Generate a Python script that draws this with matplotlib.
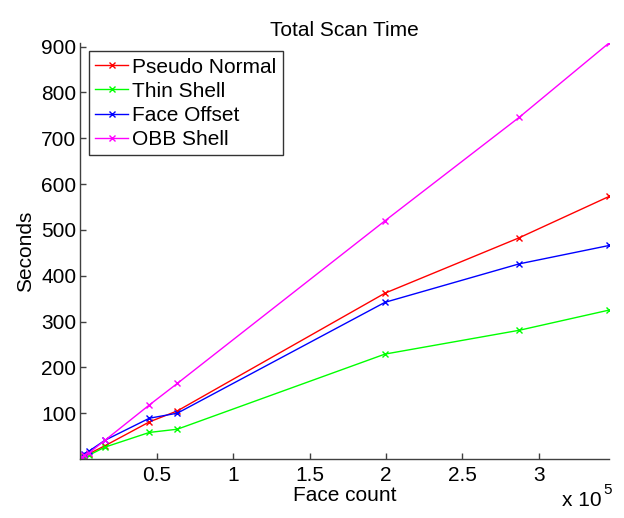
import matplotlib
matplotlib.use("Agg")
import matplotlib.pyplot as plt

plt.rcParams['font.family'] = ['Liberation Sans', 'DejaVu Sans']

face_count = [200, 500, 1000, 2500, 6000, 16200, 45200, 63500, 199400, 287300, 346000]
pseudo_normal = [1, 2, 3, 6, 12, 29, 81, 105, 362, 483, 573]
thin_shell = [1, 2, 3, 5, 9, 26, 58, 65, 229, 281, 325]
face_offset = [1, 3, 5, 12, 18, 41, 89, 100, 342, 426, 466]
obb_shell = [1, 2, 4, 8, 14, 41, 118, 165, 520, 746, 908]

series = [
    ("Pseudo Normal", pseudo_normal, "#ff0000"),
    ("Thin Shell", thin_shell, "#00ff00"),
    ("Face Offset", face_offset, "#0000ff"),
    ("OBB Shell", obb_shell, "#ff00ff"),
]
x_ticks = [0.5e5, 1e5, 1.5e5, 2e5, 2.5e5, 3e5]
x_tick_labels = ["0.5", "1", "1.5", "2", "2.5", "3"]
y_ticks = [100, 200, 300, 400, 500, 600, 700, 800, 900]

W, H = 624, 518
fig = plt.figure(figsize=(W / 100, H / 100), dpi=100)
ax = fig.add_axes([0.1287, 0.1139, 0.976 - 0.1287, 0.917 - 0.1139])

for name, vals, col in series:
    ax.plot(face_count, vals, color=col, marker='x', markersize=5, linewidth=1.0, label=name)

ax.set_xlim(0, max(face_count))
ax.set_ylim(0, max(obb_shell))
ax.set_xticks(x_ticks)
ax.set_xticklabels(x_tick_labels)
ax.set_yticks(y_ticks)
for s in ['top', 'right']:
    ax.spines[s].set_visible(False)
for s in ['left', 'bottom']:
    ax.spines[s].set_color('#404040')
    ax.spines[s].set_linewidth(1.0)
ax.tick_params(direction='in', length=4, width=1, color='#404040', labelsize=15)
ax.tick_params(axis='x', pad=5)
ax.tick_params(axis='y', pad=3)

ax.set_title("Total Scan Time", fontsize=15, pad=5)
ax.set_xlabel("Face count", fontsize=15, labelpad=1)
ax.set_ylabel("Seconds", fontsize=15, labelpad=4)
fig.text(562 / W, 1 - 506 / H, "x 10", ha='left', va='baseline', fontsize=15)
fig.text(603 / W, 1 - 494 / H, "5", ha='left', va='baseline', fontsize=11)

leg = ax.legend(loc='upper left', fontsize=15, frameon=True, fancybox=False,
                edgecolor='black', handlelength=1.6, handletextpad=0.2,
                borderpad=0.3, labelspacing=0.25, borderaxespad=0.4)
leg.get_frame().set_linewidth(1.0)

fig.savefig("out.png", dpi=100)
